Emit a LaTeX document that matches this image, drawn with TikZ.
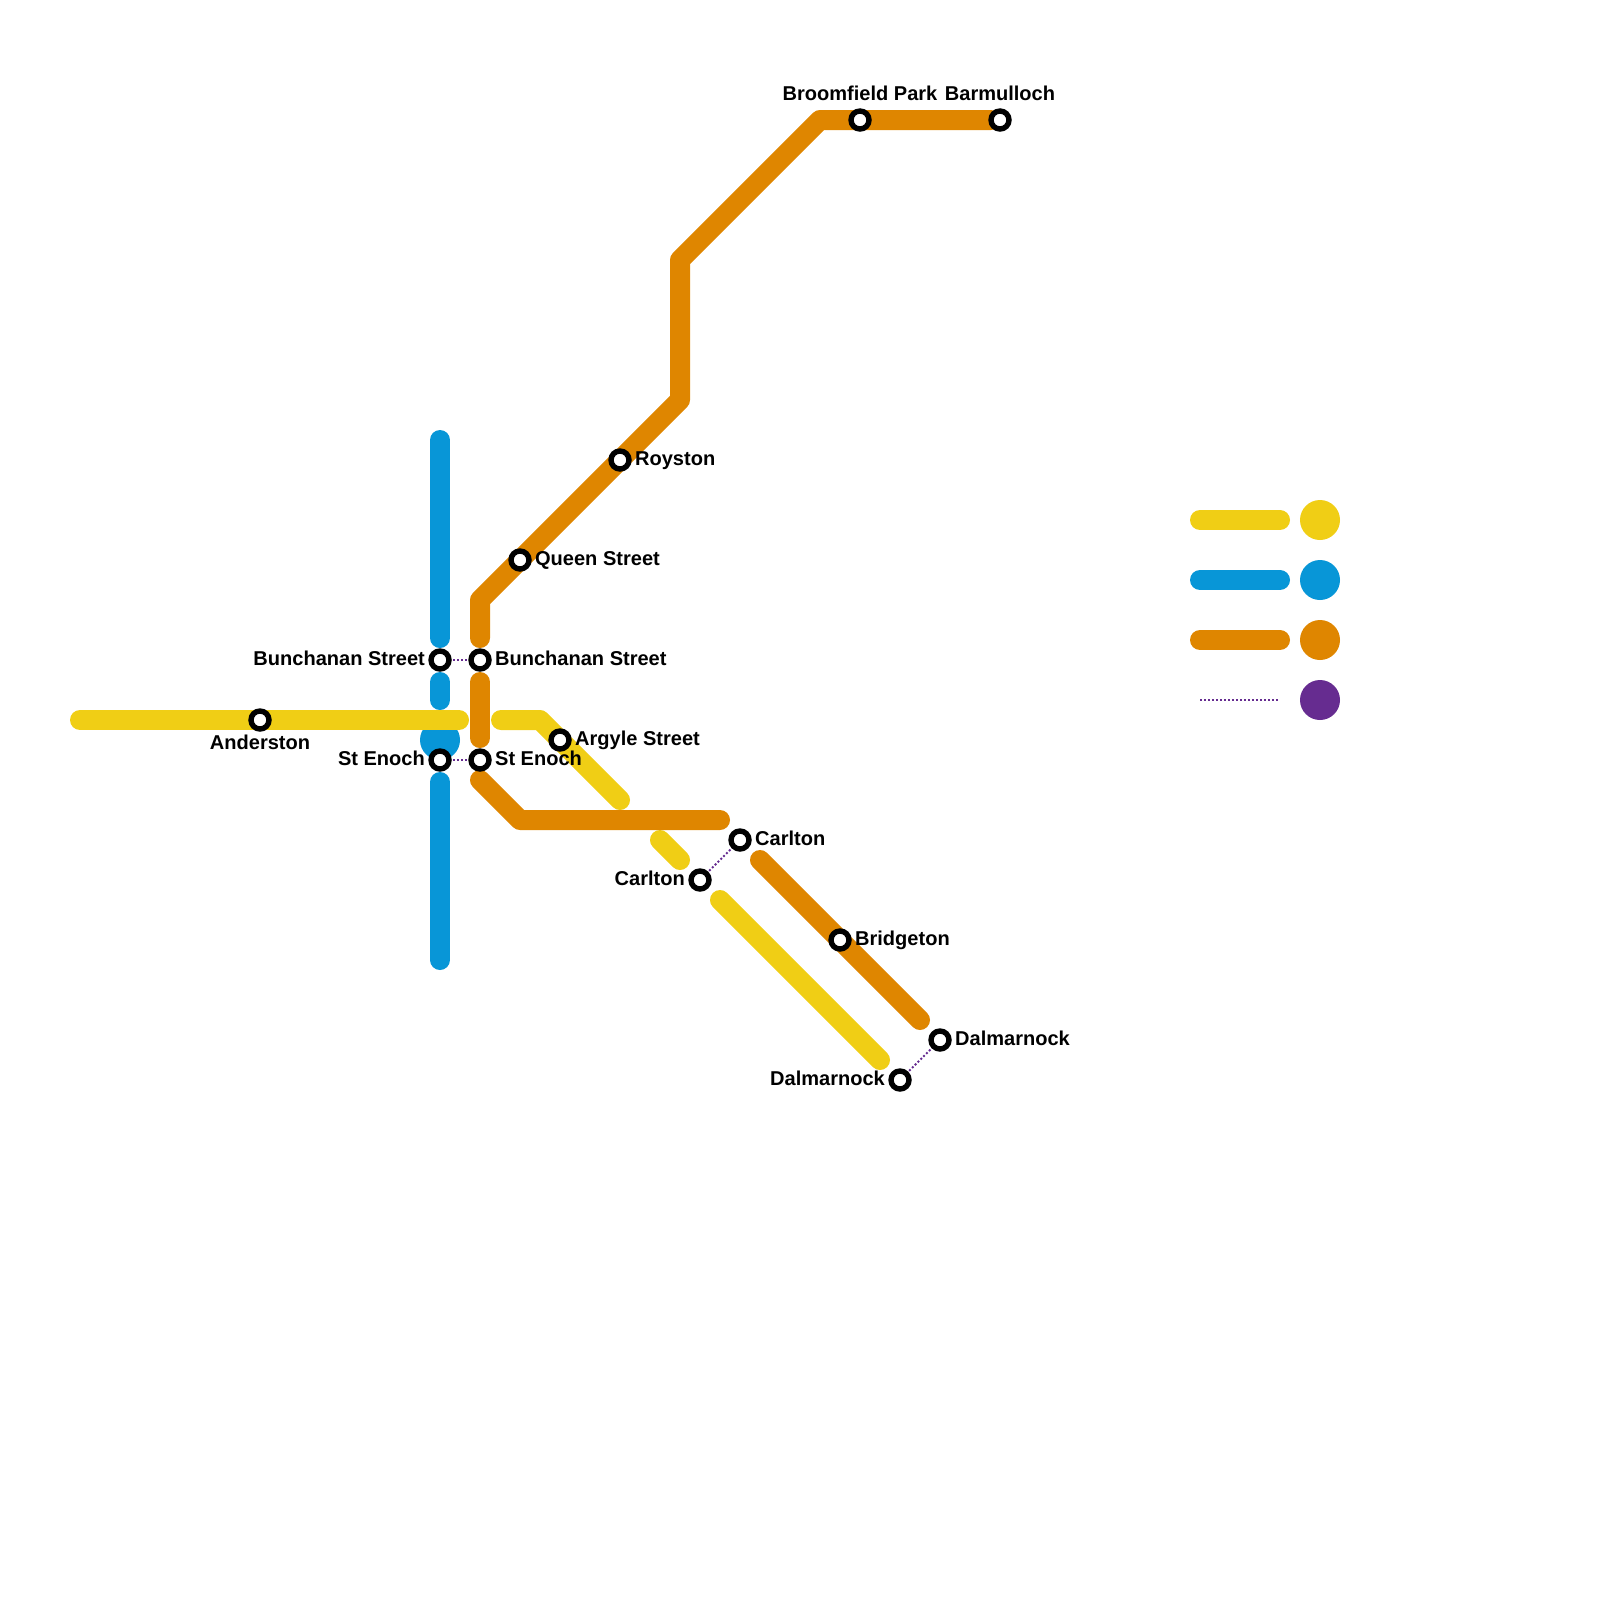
\documentclass[tikz,border=0pt]{standalone}
\usepackage{fontspec}
\setmainfont{Liberation Sans}
\usetikzlibrary{positioning}

\definecolor{lineyellow}{HTML}{F0CE15}
\definecolor{lineblue}{HTML}{0896D7}
\definecolor{lineorange}{HTML}{DF8600}
\definecolor{linepurple}{HTML}{662C90}

\pgfdeclarelayer{routes}
\pgfsetlayers{routes,main}

\tikzset{
	route/.style={line width=1cm, line cap=round, line join=round},
	walklink/.style={draw=linepurple, line width=.1cm, dash pattern=on .1cm off .1cm},
	stn/.style={circle, draw=black, fill=white, line width=.27cm, minimum size=.9cm, inner sep=0pt, outer sep=0pt},
	lbl/.style={inner sep=0pt, text height=.72cm, text depth=.21cm, font=\fontsize{28.5}{32}\selectfont\bfseries},
	spot/.style={circle, minimum size=2cm, inner sep=0pt, outer sep=0pt},
}

\begin{document}
\begin{tikzpicture}[x=1cm, y=-1cm]
	% -------- Page: one unit is one grid square --------
	\useasboundingbox (0,0) rectangle (80,80);
	\def\gap{.75cm}      % station centre to label
	
	% -------- Line ends and bends --------
	\foreach \nm/\X/\Y in {b1/22/22, b2/22/31.9, b3/22/34.1, b4/22/35, b5/22/39.1, b6/22/48,
		y1/4/36, y2/22.95/36, y3/25.05/36, y4/27/36, y5/31/40, y6/33/42, y7/34/43, y8/36/45, y9/44/53,
		o1/41/6, o2/34/13, o3/34/20, o4/24/30, o5/24/31.9, o6/24/34.1, o7/24/36.9, o8/24/39,
		o9/26/41, o10/36/41, o11/38/43, o12/46/51}{
		\coordinate (\nm) at (\X,\Y);
	}
	
	% -------- Stations --------
	\foreach \nm/\X/\Y/\side/\txt in {
		anderston/13/36/below/Anderston,
		bunchananw/22/33/left/Bunchanan Street,
		bunchanane/24/33/right/Bunchanan Street,
		enochw/22/38/left/St Enoch,
		enoche/24/38/right/St Enoch,
		argyle/28/37/right/Argyle Street,
		queen/26/28/right/Queen Street,
		royston/31/23/right/Royston,
		broomfield/43/6/above/Broomfield Park,
		barmulloch/50/6/above/Barmulloch,
		carltone/37/42/right/Carlton,
		carltonw/35/44/left/Carlton,
		bridgeton/42/47/right/Bridgeton,
		dalmarnocke/47/52/right/Dalmarnock,
		dalmarnockw/45/54/left/Dalmarnock}{
		\node[stn] (\nm) at (\X,\Y) {};
		\node[lbl, \side=\gap of \nm.center] (\nm-lbl) {\txt};
	}
	
	% -------- Legend --------
	\foreach \nm/\col/\Y in {yellow/lineyellow/26, blue/lineblue/29, orange/lineorange/32}{
		\coordinate (key-\nm-a) at (60,\Y);
		\coordinate (key-\nm-b) at (64,\Y);
		\draw[route, \col] (key-\nm-a) -- (key-\nm-b);
		\node[spot, fill=\col] (spot-\nm) at (66,\Y) {};
	}
	\coordinate (key-walk-a) at (60,35);
	\coordinate (key-walk-b) at (63.9,35);
	\draw[walklink] (key-walk-a) -- (key-walk-b);
	\node[spot, fill=linepurple] (spot-walk) at (66,35) {};
	
	% -------- Routes, lowest first --------
	\begin{pgfonlayer}{routes}
		\draw[walklink] (bunchananw) -- (bunchanane);
		\draw[walklink] (enochw) -- (enoche);
		\draw[walklink] (carltonw) -- (carltone);
		\draw[walklink] (dalmarnockw) -- (dalmarnocke);
		
		\fill[lineblue] (22,37) circle[radius=1];
		\draw[route, lineblue] (b1) -- (b2);
		\draw[route, lineblue] (b3) -- (b4);
		\draw[route, lineblue] (b5) -- (b6);
		
		\draw[route, lineyellow] (y1) -- (y2);
		\draw[route, lineyellow] (y3) -- (y4) -- (y5);
		\draw[route, lineyellow] (y6) -- (y7);
		\draw[route, lineyellow] (y8) -- (y9);
		
		\draw[route, lineorange] (barmulloch) -- (o1) -- (o2) -- (o3) -- (o4) -- (o5);
		\draw[route, lineorange] (o6) -- (o7);
		\draw[route, lineorange] (o8) -- (o9) -- (o10);
		\draw[route, lineorange] (o11) -- (o12);
	\end{pgfonlayer}
\end{tikzpicture}
\end{document}
